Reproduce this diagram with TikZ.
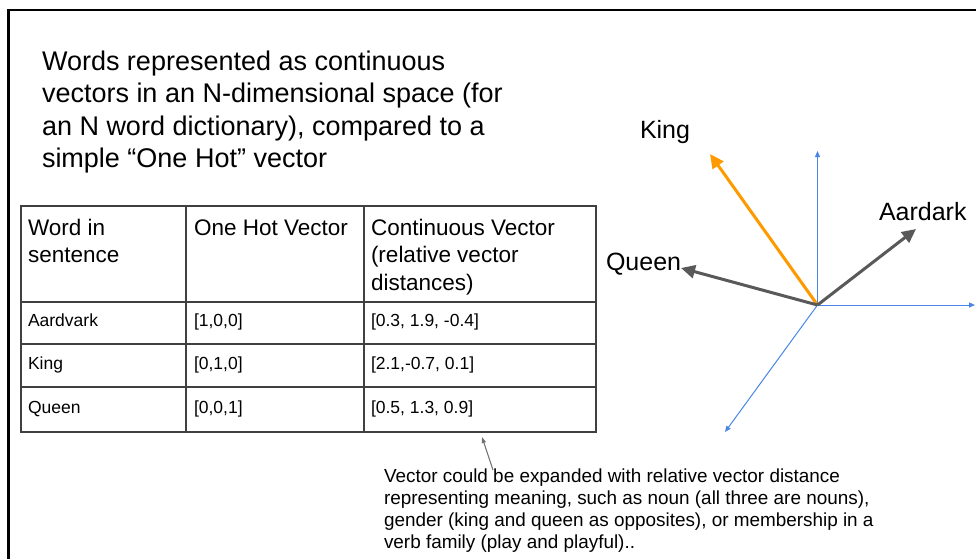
\documentclass[tikz,border=0pt]{standalone}
\usepackage{fontspec}
\setmainfont{Liberation Sans}
\usetikzlibrary{arrows.meta}
\definecolor{axisblue}{HTML}{4A86E8}
\definecolor{kingorange}{HTML}{FF9900}
\definecolor{vecgray}{HTML}{595959}
\definecolor{tablegray}{HTML}{404040}
\definecolor{ptrgray}{HTML}{707070}
\begin{document}
\begin{tikzpicture}[x=1pt,y=-1pt,
 txt/.style={inner sep=0pt, outer sep=0pt, anchor=base west, align=left},
 titletxt/.style={txt, font=\fontsize{27}{32.3}\selectfont},
 headtxt/.style={txt, font=\fontsize{22.5}{27.5}\selectfont},
 celltxt/.style={txt, font=\fontsize{17.5}{21}\selectfont},
 lbltxt/.style={txt, font=\fontsize{25}{30}\selectfont},
 notetxt/.style={txt, font=\fontsize{18.9}{22.3}\selectfont},
 axisline/.style={axisblue, line width=1pt, -{Triangle[length=6pt,width=5pt]}},
 vecline/.style={line width=3pt, -{Triangle[length=14pt,width=13pt]}},
 gridline/.style={tablegray, line width=1.3pt},
 ptrline/.style={ptrgray, line width=1pt, -{Triangle[length=6pt,width=4pt]}}]
\useasboundingbox (0,0) rectangle (976,558);
\fill[white] (0,0) rectangle (976,558);
% frame
\draw[black, line width=2.6pt] (8.7,560) -- (8.7,10) -- (978,10);
% title (anchor = baseline of last line)
\node[titletxt] (title) at (42,167.4) {Words represented as continuous\\vectors in an N-dimensional space (for\\an N word dictionary), compared to a\\simple “One Hot” vector};
% table
\draw[gridline] (21,206) rectangle (596,432);
\draw[gridline] (21,302) -- (596,302);
\draw[gridline] (21,344) -- (596,344);
\draw[gridline] (21,387) -- (596,387);
\draw[gridline] (186,206) -- (186,432);
\draw[gridline] (364,206) -- (364,432);
\node[headtxt] (h1) at (28,262.5) {Word in\\sentence};
\node[headtxt] (h2) at (194,235) {One Hot Vector};
\node[headtxt] (h3) at (371,290) {Continuous Vector\\(relative vector\\distances)};
\node[celltxt] (a1) at (28,326) {Aardvark};
\node[celltxt] (a2) at (194,326) {[1,0,0]};
\node[celltxt] (a3) at (371,326) {[0.3, 1.9, -0.4]};
\node[celltxt] (k1) at (28,369) {King};
\node[celltxt] (k2) at (194,369) {[0,1,0]};
\node[celltxt] (k3) at (371,369) {[2.1,-0.7, 0.1]};
\node[celltxt] (q1) at (28,413) {Queen};
\node[celltxt] (q2) at (194,413) {[0,0,1]};
\node[celltxt] (q3) at (371,413) {[0.5, 1.3, 0.9]};
% note
\node[notetxt] (note) at (384,548.9) {Vector could be expanded with relative vector distance\\representing meaning, such as noun (all three are nouns),\\gender (king and queen as opposites), or membership in a\\verb family (play and playful)..};
\coordinate (ptail) at (493,470);
\coordinate (ptip) at (482,437);
\draw[ptrline] (ptail) -- (ptip);
% vector space
\coordinate (O) at (817.5,305);
\coordinate (ytip) at (817.5,151);
\coordinate (xtip) at (975,305);
\coordinate (ztip) at (725,432);
\coordinate (kingtip) at (710,154);
\coordinate (queentip) at (681,268);
\coordinate (aardtip) at (916,229);
\draw[axisline] (O) -- (ytip);
\draw[axisline] (O) -- (xtip);
\draw[axisline] (O) -- (ztip);
\draw[vecline, kingorange] (O) -- (kingtip);
\draw[vecline, vecgray] (O) -- (queentip);
\draw[vecline, vecgray] (O) -- (aardtip);
\node[lbltxt] (kinglbl) at (640,138) {King};
\node[lbltxt] (queenlbl) at (606,270) {Queen};
\node[lbltxt] (aardlbl) at (879,220) {Aardark};
\end{tikzpicture}
\end{document}
